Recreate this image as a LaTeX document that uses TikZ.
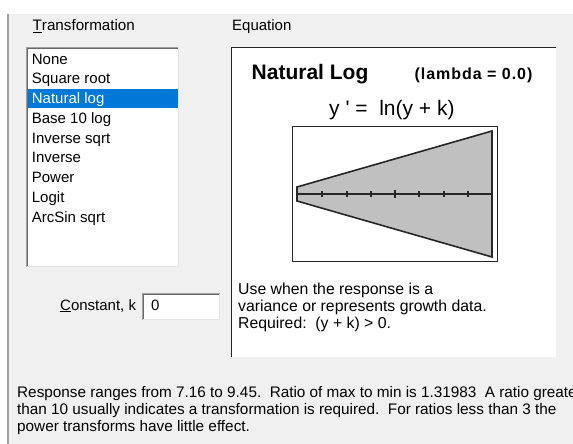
\documentclass[tikz,border=0pt]{standalone}
\usepackage{fontspec}
\setmainfont{Liberation Sans}
\definecolor{dlgbg}{HTML}{F0F0F0}
\definecolor{edgedark}{HTML}{696969}
\definecolor{edgemid}{HTML}{A0A0A0}
\definecolor{edgelight}{HTML}{E3E3E3}
\definecolor{selblue}{HTML}{0078D7}
\definecolor{inkdark}{HTML}{262626}
\definecolor{fanfill}{HTML}{C0C0C0}
\begin{document}
\begin{tikzpicture}[x=1pt,y=-1pt,
  lbl/.style={inner sep=0pt,anchor=base west,font=\fontsize{15}{18}\selectfont,text=black},
  item/.style={lbl},
  desc/.style={inner sep=0pt,anchor=base west,font=\fontsize{15.8}{18}\selectfont,text=black},
  note/.style={inner sep=0pt,anchor=base west,font=\fontsize{15.3}{18}\selectfont,text=black},
  fanline/.style={draw=inkdark,line width=1.6pt,line join=miter},
  tick/.style={draw=inkdark,line width=1.7pt}]
\clip (0,0) rectangle (573,444);
\useasboundingbox (0,0) rectangle (573,444);
% window background
\fill[white] (0,0) rectangle (573,444);
\fill[dlgbg] (9,14) rectangle (573,444);
\fill[edgemid] (7,14) rectangle (9,444);

% transformation list
\node[lbl,font=\fontsize{15.2}{18}\selectfont] (transhdr) at (32.5,31) {\underline{T}ransformation};
\fill[white] (26,47) rectangle (179,267);
\draw[edgemid,line width=1pt] (26.5,266.5) -- (26.5,47.5) -- (178.5,47.5);
\draw[edgedark,line width=1pt] (27.5,265.5) -- (27.5,48.5) -- (177.5,48.5);
\draw[edgelight,line width=1pt] (178.5,47.5) -- (178.5,266.5) -- (26.5,266.5);
\fill[selblue] (28.3,89.3) rectangle (177.7,107.7);
\node[item] (tnone)   at (31.7,64)     {None};
\node[item] (tsqrt)   at (31.7,83.75)  {Square root};
\node[item,text=white] (tln) at (31.7,103.5) {Natural log};
\node[item] (tlog10)  at (31.7,123.25) {Base 10 log};
\node[item] (tinvsq)  at (31.7,143)    {Inverse sqrt};
\node[item] (tinv)    at (31.7,162.75) {Inverse};
\node[item] (tpow)    at (31.7,182.5)  {Power};
\node[item] (tlogit)  at (31.7,202.25) {Logit};
\node[item] (tarcsin) at (31.7,222)    {ArcSin sqrt};

% constant field
\node[lbl] (constlbl) at (60,310) {\underline{C}onstant, k};
\fill[white] (142,293) rectangle (220,320);
\draw[edgemid,line width=1pt] (142.5,319.5) -- (142.5,293.5) -- (219.5,293.5);
\draw[edgedark,line width=1pt] (143.5,318.5) -- (143.5,294.5) -- (218.5,294.5);
\draw[edgelight,line width=1pt] (219.5,293.5) -- (219.5,319.5) -- (142.5,319.5);
\node[lbl] (constval) at (151,310) {0};

% equation panel
\node[lbl] (eqhdr) at (232,31) {Equation};
\fill[white] (231,47) rectangle (556,357);
\draw[inkdark,line width=1.4pt] (231.7,357) -- (231.7,47.7) -- (556,47.7);
\node[inner sep=0pt,anchor=base west,font=\bfseries\fontsize{21}{24}\selectfont] (title) at (251.5,79) {Natural Log};
\node[inner sep=0pt,anchor=base west,font=\bfseries\fontsize{16}{18}\selectfont\addfontfeature{LetterSpace=6}] (lambda) at (414.5,79) {(lambda = 0.0)};
\node[inner sep=0pt,anchor=base west,font=\fontsize{21}{24}\selectfont] (formula) at (329,115) {y~\textquotesingle~=~~ln(y + k)};

% variance fan
\draw[inkdark,line width=1.3pt] (292.6,126.6) rectangle (497.4,261.6);
\coordinate (fl) at (297,194);
\coordinate (fr) at (492,194);
\filldraw[fill=fanfill,fanline] (297,187) -- (492,131) -- (492,257) -- (297,201) -- cycle;
\draw[tick] (fl) -- (fr);
\foreach \tx in {321.7,346.7,370.7,419,444,468.3}
  \draw[tick] (\tx,191) -- (\tx,197);
\draw[tick] (395,189.5) -- (395,197.5);

\node[desc] (use1) at (238,294) {Use when the response is a};
\node[desc] (use2) at (238,311.5) {variance or represents growth data.};
\node[desc] (use3) at (238,328) {Required:~~(y + k) > 0.};

% summary
\node[note] (sum1) at (17,397) {Response ranges from 7.16 to 9.45.~~Ratio of max to min is 1.31983~~A ratio greater};
\node[note] (sum2) at (17,414) {than 10 usually indicates a transformation is required.~~For ratios less than 3 the};
\node[note] (sum3) at (17,431) {power transforms have little effect.};
\end{tikzpicture}
\end{document}
